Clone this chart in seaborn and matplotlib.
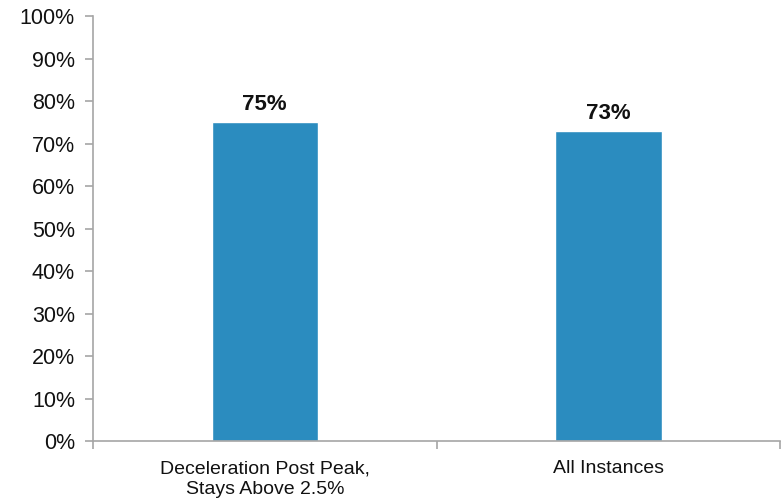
import matplotlib
matplotlib.use("Agg")
import matplotlib.pyplot as plt
import seaborn as sns
import pandas as pd
from matplotlib.ticker import FixedLocator, PercentFormatter

categories = ["Deceleration Post Peak,\nStays Above 2.5%", "All Instances"]
values = [75, 73]
value_labels = ["75%", "73%"]

sns.set_theme(style="white")
plt.rcParams["font.family"] = ["Liberation Sans", "DejaVu Sans"]

df = pd.DataFrame({"category": categories, "share": values})

fig = plt.figure(figsize=(7.83, 5.04), dpi=100)
ax = fig.add_axes([0.1188, 0.125, 0.8774, 0.843])

sns.barplot(data=df, x="category", y="share", color="#2B8CBF",
            width=0.31, saturation=1, ax=ax)

ax.set_xlim(-0.5, 1.5)
ax.set_ylim(0, 100)
ax.set_yticks(range(0, 101, 10))
ax.yaxis.set_major_formatter(PercentFormatter(decimals=0))
ax.set_xlabel("")
ax.set_ylabel("")

for side in ("top", "right"):
    ax.spines[side].set_visible(False)
for side in ("left", "bottom"):
    ax.spines[side].set_color("#A6A6A6")
    ax.spines[side].set_linewidth(1.2)

ax.tick_params(axis="y", which="major", left=True, length=6, width=1.2,
               color="#A6A6A6", labelsize=15.5, pad=7, labelcolor="#111111")
ax.tick_params(axis="x", which="major", bottom=False, pad=8,
               labelsize=14, labelcolor="#111111")
for lab in ax.get_xticklabels():
    lab.set_linespacing(1.3)
ax.xaxis.set_minor_locator(FixedLocator([-0.5, 0.5, 1.5]))
ax.tick_params(axis="x", which="minor", bottom=True, length=6, width=1.2,
               color="#A6A6A6")

for i, (v, lab) in enumerate(zip(values, value_labels)):
    ax.annotate(lab, (i, v), xytext=(0, 5), textcoords="offset points",
                ha="center", va="bottom", fontsize=16, fontweight="bold",
                color="#111111")

fig.savefig("out.png", dpi=100)
